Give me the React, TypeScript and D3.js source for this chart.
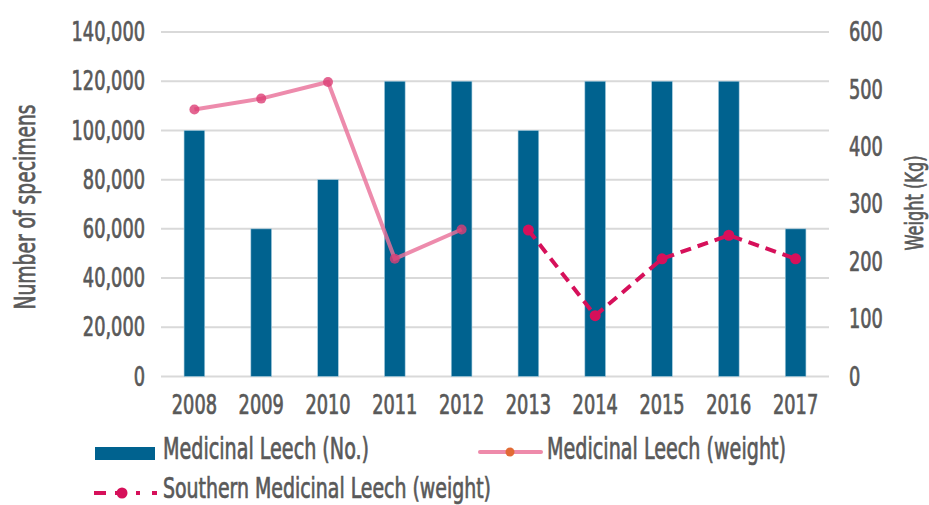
import React from "react";
import * as d3 from "d3";

const years = ["2008", "2009", "2010", "2011", "2012", "2013", "2014", "2015", "2016", "2017"];
const leechCount = [100000, 60000, 80000, 120000, 120000, 100000, 120000, 120000, 120000, 60000];
const leechWeight = [465, 484, 513, 205, 256, null, null, null, null, null];
const southernWeight = [null, null, null, null, null, 255, 106, 205, 246, 205];
const leftTicks = [0, 20000, 40000, 60000, 80000, 100000, 120000, 140000];
const rightTicks = [0, 100, 200, 300, 400, 500, 600];

const FONT = "'DejaVu Sans Condensed', 'Liberation Sans Narrow', sans-serif";
const TEXT = "#595959";

// condensed text: squeeze horizontally and thicken a little
const CText = ({ x, y, anchor = "start", size = 26, sx = 0.76, children }: any) => (
  <text
    transform={`translate(${x},${y}) scale(${sx},1)`}
    textAnchor={anchor}
    dy="0.35em"
    fontSize={size}
    fill={TEXT}
    stroke={TEXT}
    strokeWidth={0.7}
  >
    {children}
  </text>
);

const App = () => {
  const width = 929;
  const height = 505;
  const margin = { top: 32, right: 100, bottom: 128.5, left: 161 };

  const x = d3
    .scaleBand()
    .domain(years)
    .range([margin.left, width - margin.right])
    .paddingInner(0.69)
    .paddingOuter(0.345);
  const yLeft = d3.scaleLinear().domain([0, 140000]).range([height - margin.bottom, margin.top]);
  const yRight = d3.scaleLinear().domain([0, 600]).range([height - margin.bottom, margin.top]);
  const fmt = d3.format(",");
  const cx = (d: string) => x(d)! + x.bandwidth() / 2;

  const line = d3
    .line<number | null>()
    .defined(d => d != null)
    .x((d, i) => cx(years[i]))
    .y(d => yRight(d as number));

  const pinkPts = leechWeight.map((v, i) => ({ v, y: years[i] })).filter(p => p.v != null);
  const redPts = southernWeight.map((v, i) => ({ v, y: years[i] })).filter(p => p.v != null);

  return (
    <svg
      width={width}
      height={height}
      style={{ position: "absolute", left: 0, top: 0, background: "#fff" }}
      fontFamily={FONT}
    >
      {leftTicks.map(t => (
        <line
          key={"g" + t}
          x1={margin.left}
          x2={width - margin.right}
          y1={yLeft(t)}
          y2={yLeft(t)}
          stroke="#d9d9d9"
          strokeWidth={2}
        />
      ))}
      {leftTicks.map(t => (
        <CText key={"l" + t} x={145} y={yLeft(t)} anchor="end">
          {fmt(t)}
        </CText>
      ))}
      {rightTicks.map(t => (
        <CText key={"r" + t} x={849} y={yRight(t)}>
          {t}
        </CText>
      ))}
      {years.map((yr, i) => (
        <rect
          key={yr}
          x={x(yr)}
          y={yLeft(leechCount[i])}
          width={x.bandwidth()}
          height={yLeft(0) - yLeft(leechCount[i])}
          fill="#00628f"
          stroke="#a9cde0"
          strokeWidth={0.6}
        />
      ))}
      {years.map(yr => (
        <CText key={"x" + yr} x={cx(yr)} y={405} anchor="middle">
          {yr}
        </CText>
      ))}
      <text
        transform="translate(25,207) rotate(-90)"
        textAnchor="middle"
        dy="0.35em"
        fontSize={28}
        fill={TEXT}
        stroke={TEXT}
        strokeWidth={0.7}
        textLength={205}
        lengthAdjust="spacingAndGlyphs"
      >
        Number of specimens
      </text>
      <text
        transform="translate(914,203) rotate(-90)"
        textAnchor="middle"
        dy="0.35em"
        fontSize={25}
        fill={TEXT}
        stroke={TEXT}
        strokeWidth={0.7}
        textLength={95}
        lengthAdjust="spacingAndGlyphs"
      >
        Weight (Kg)
      </text>

      <path d={line(leechWeight) || ""} fill="none" stroke="#e9729a" strokeOpacity={0.82} strokeWidth={4} />
      {pinkPts.map(p => (
        <circle key={"p" + p.y} cx={cx(p.y)} cy={yRight(p.v as number)} r={5} fill="#dc3f76" fillOpacity={0.8} />
      ))}
      <path
        d={line(southernWeight) || ""}
        fill="none"
        stroke="#d6105a"
        strokeWidth={4}
        strokeDasharray="11,7"
      />
      {redPts.map(p => (
        <circle key={"s" + p.y} cx={cx(p.y)} cy={yRight(p.v as number)} r={5.5} fill="#d6105a" />
      ))}

      {/* legend */}
      <g fontSize={30} fill={TEXT} stroke={TEXT} strokeWidth={0.7}>
        <text x={163} y={459} textLength={206} lengthAdjust="spacingAndGlyphs">
          Medicinal Leech (No.)
        </text>
        <text x={547} y={459} textLength={239} lengthAdjust="spacingAndGlyphs">
          Medicinal Leech (weight)
        </text>
        <text x={163} y={498} fontSize={28} textLength={328} lengthAdjust="spacingAndGlyphs">
          Southern Medicinal Leech (weight)
        </text>
      </g>
      <rect x={95} y={447} width={60} height={13} fill="#00628f" />
      <line x1={480} x2={541} y1={452} y2={452} stroke="#ee8aaa" strokeWidth={4} strokeLinecap="round" />
      <circle cx={510} cy={452} r={4.5} fill="#e26a35" />
      <line x1={94} x2={157} y1={493} y2={493} stroke="#d6105a" strokeWidth={4} strokeDasharray="12,9,12,9,4" />
      <circle cx={122} cy={493} r={5.5} fill="#d6105a" />
    </svg>
  );
};

export default App;
